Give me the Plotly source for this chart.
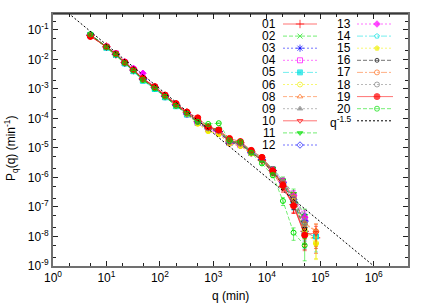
import plotly.graph_objects as go

# ---------------- data ----------------
q = [5, 10, 15, 22, 32, 48, 80, 125, 200, 320, 510, 800, 1260, 2000, 3200,
     5100, 8100, 12900, 20000, 31600, 51000, 83000]

s01 = [6.5e-2, 2.7e-2, 1.5e-2, 7.9e-3, 4.4e-3, 2.2e-3, 1.15e-3, 5.8e-4, 3.0e-4, 1.6e-4, 8.0e-5, 5.0e-5, 3.6e-5, 1.7e-5, 1.5e-5, 7.5e-6, 3.8e-6, 1.7e-6, 5.0e-7, 1.2e-7, 1.5e-8, 9e-9]
s02 = [7.0e-2, 2.5e-2, 1.4e-2, 7.4e-3, 4.1e-3, 2.0e-3, 1.05e-3, 5.4e-4, 2.7e-4, 1.4e-4, 7.2e-5, 4.5e-5, 3.9e-5, 1.5e-5, 1.3e-5, 6.8e-6, 4.2e-6, 1.5e-6, 7.0e-7, 2.2e-7, 3.0e-8, None]
s03 = [6.9e-2, 2.6e-2, 1.5e-2, 7.7e-3, 4.2e-3, 2.1e-3, 1.1e-3, 5.5e-4, 2.8e-4, 1.4e-4, 7.5e-5, 4.6e-5, 3.5e-5, 1.5e-5, 1.35e-5, 7.0e-6, 4.1e-6, 1.7e-6, 6.5e-7, 1.5e-7, 3.5e-8, None]
s04 = [6.6e-2, 2.7e-2, 1.6e-2, 8.0e-3, 4.6e-3, 2.3e-3, 1.15e-3, 5.9e-4, 2.9e-4, 1.5e-4, 7.0e-5, 4.2e-5, 3.3e-5, 1.6e-5, 1.25e-5, 7.4e-6, 4.4e-6, 1.9e-6, 7.5e-7, 2.5e-7, 4.0e-8, None]
s05 = [6.7e-2, 2.5e-2, 1.45e-2, 7.3e-3, 4.0e-3, 1.9e-3, 1.0e-3, 5.2e-4, 2.6e-4, 1.35e-4, 7.3e-5, 4.6e-5, 4.0e-5, 1.7e-5, 1.55e-5, 7.8e-6, 4.5e-6, 1.8e-6, 6.8e-7, 1.4e-7, 1.3e-8, 1.0e-8]
s06 = [6.8e-2, 2.6e-2, 1.5e-2, 7.5e-3, 4.3e-3, 2.0e-3, 1.1e-3, 5.6e-4, 2.7e-4, 1.5e-4, 6.8e-5, 3.8e-5, 3.0e-5, 1.4e-5, 1.2e-5, 6.5e-6, 4.8e-6, 1.6e-6, 6.0e-7, 1.9e-7, 1.8e-8, 6e-9]
s08 = [6.4e-2, 2.6e-2, 1.55e-2, 7.8e-3, 4.4e-3, 2.15e-3, 1.1e-3, 5.7e-4, 2.9e-4, 1.55e-4, 7.8e-5, 4.8e-5, 3.7e-5, 1.6e-5, 1.45e-5, 7.2e-6, 3.9e-6, 1.6e-6, 6.6e-7, 2.0e-7, 2.8e-8, 1.6e-8]
s09 = [6.9e-2, 2.5e-2, 1.5e-2, 7.6e-3, 4.3e-3, 2.1e-3, 1.1e-3, 5.5e-4, 2.8e-4, 1.45e-4, 7.4e-5, 4.6e-5, 3.8e-5, 1.6e-5, 1.4e-5, 7.0e-6, 4.0e-6, 1.5e-6, 6.2e-7, 1.7e-7, 2.2e-8, None]
s10 = [6.2e-2, 2.7e-2, 1.5e-2, 7.7e-3, 4.4e-3, 2.2e-3, 1.2e-3, 6.0e-4, 3.1e-4, 1.6e-4, 8.2e-5, 5.1e-5, 4.0e-5, 1.8e-5, 1.5e-5, 7.4e-6, 3.6e-6, 1.4e-6, 4.5e-7, 1.1e-7, 1.2e-8, 1.3e-8]
s11 = [7.1e-2, 2.6e-2, 1.45e-2, 7.5e-3, 4.2e-3, 2.0e-3, 1.05e-3, 5.4e-4, 2.7e-4, 1.4e-4, 7.6e-5, 5.0e-5, 4.3e-5, 1.7e-5, 1.4e-5, 7.3e-6, 4.3e-6, 2.0e-6, 8.0e-7, 2.8e-7, 5.0e-8, None]
s12 = [6.7e-2, 2.6e-2, 1.5e-2, 7.6e-3, 4.3e-3, 2.1e-3, 1.1e-3, 5.6e-4, 2.8e-4, 1.5e-4, 7.5e-5, 4.5e-5, 3.6e-5, 1.55e-5, 1.35e-5, 6.9e-6, 4.1e-6, 1.7e-6, 6.9e-7, 1.8e-7, 3.2e-8, None]
s13 = [6.9e-2, 2.7e-2, 1.6e-2, 8.3e-3, 5.0e-3, 3.4e-3, 1.2e-3, 5.8e-4, 2.9e-4, 1.4e-4, 7.1e-5, 4.3e-5, 3.2e-5, 1.4e-5, 1.2e-5, 6.6e-6, 4.6e-6, 1.8e-6, 7.2e-7, 2.4e-7, 4.5e-8, None]
s14 = [6.6e-2, 2.5e-2, 1.5e-2, 7.4e-3, 4.1e-3, 2.0e-3, 1.05e-3, 5.3e-4, 2.7e-4, 1.45e-4, 7.4e-5, 4.7e-5, 3.9e-5, 1.6e-5, 1.45e-5, 7.6e-6, 4.3e-6, 1.7e-6, 6.4e-7, 1.6e-7, 2.4e-8, None]
s15 = [6.8e-2, 2.6e-2, 1.5e-2, 7.6e-3, 4.2e-3, 2.0e-3, 1.1e-3, 5.5e-4, 2.7e-4, 1.4e-4, 6.5e-5, 3.7e-5, 2.9e-5, 1.4e-5, 1.15e-5, 6.4e-6, 4.7e-6, 1.7e-6, 6.1e-7, 1.7e-7, 1.6e-8, 5.5e-9]
s16 = [6.9e-2, 2.6e-2, 1.5e-2, 7.6e-3, 4.3e-3, 2.1e-3, 1.1e-3, 5.6e-4, 2.8e-4, 1.5e-4, 7.6e-5, 4.6e-5, 3.7e-5, 1.6e-5, 1.4e-5, 7.0e-6, 3.9e-6, 1.5e-6, 5.8e-7, 1.5e-7, 1.8e-8, None]
s17 = [6.5e-2, 2.6e-2, 1.5e-2, 7.7e-3, 4.3e-3, 2.1e-3, 1.1e-3, 5.7e-4, 2.9e-4, 1.5e-4, 7.7e-5, 4.7e-5, 3.6e-5, 1.6e-5, 1.4e-5, 7.2e-6, 4.0e-6, 1.6e-6, 6.8e-7, 2.1e-7, 2.6e-8, 1.5e-8]
s18 = [6.8e-2, 2.6e-2, 1.5e-2, 7.5e-3, 4.3e-3, 2.1e-3, 1.1e-3, 5.6e-4, 2.8e-4, 1.5e-4, 7.5e-5, 4.6e-5, 3.8e-5, 1.6e-5, 1.4e-5, 7.1e-6, 4.1e-6, 1.6e-6, 6.5e-7, 1.9e-7, 2.9e-8, None]
s19 = [6.0e-2, 2.7e-2, 1.55e-2, 8.0e-3, 4.5e-3, 2.3e-3, 1.2e-3, 6.2e-4, 3.2e-4, 1.65e-4, 1.05e-4, 5.2e-5, 4.1e-5, 2.1e-5, 1.65e-5, 8.3e-6, 4.8e-6, 1.7e-6, 5.5e-7, 1.1e-7, 1.1e-8, None]
s20 = [7.2e-2, 2.6e-2, 1.5e-2, 7.6e-3, 4.2e-3, 2.0e-3, 1.05e-3, 5.5e-4, 2.7e-4, 1.45e-4, 7.7e-5, 6.5e-5, 6.9e-5, 1.8e-5, 1.6e-5, 6.9e-6, 3.0e-6, 1.2e-6, 1.6e-7, 1.35e-8, 5e-9, None]

# relative error bar size per q bin (visible only in the tail)
rel_err = [0, 0, 0, 0, 0, 0, 0, 0, 0, 0, 0, 0, 0.02, 0.04, 0.05,
           0.08, 0.12, 0.18, 0.3, 0.45, 0.7, 0.7]

names = ["01", "02", "03", "04", "05", "06", "08", "09", "10", "11",
         "12", "13", "14", "15", "16", "17", "18", "19", "20"]
series = [s01, s02, s03, s04, s05, s06, s08, s09, s10, s11,
          s12, s13, s14, s15, s16, s17, s18, s19, s20]

# power-law reference q^-1.5
q_line = [1, 1e7]
p_line = [1.0, 1e7 ** -1.5]
line_label = "q<sup>-1.5</sup>"

# x/y tick labels
x_tick_exp = [0, 1, 2, 3, 4, 5, 6]
y_tick_exp = [-9, -8, -7, -6, -5, -4, -3, -2, -1]

# ---------------- styles ----------------
RED, GRN, BLU, MAG, CYN, YEL, BLK, ORG, GRY = (
    "#ff0000", "#00e000", "#0000ff", "#ff00ff", "#00e0e0",
    "#f0f000", "#000000", "#ff7020", "#808080")
colors = [RED, GRN, BLU, MAG, CYN, YEL, ORG, GRY, RED, GRN,
          BLU, MAG, CYN, YEL, BLK, ORG, GRY, RED, GRN]
DASH = "4px,2px"
DOT = "2px,2px"
DDOT = "6px,2px,2px,2px"
dashes = ["solid", DASH, DOT, DOT, DDOT, DOT, DASH, DOT, "solid", DASH,
          DOT, DOT, DDOT, DOT, DASH, DDOT, DOT, "solid", DASH]
symbols = ["cross-thin-open", "x-thin-open", "asterisk-open", "square-open", "square",
           "circle-open", "triangle-up-open", "triangle-up", "triangle-down-open",
           "triangle-down", "diamond-open", "diamond", "pentagon-open", "pentagon",
           "circle-open", "circle-open", "circle-open", "circle", "circle-open"]
msizes = [6, 5, 6, 5, 5, 5, 5, 5, 5, 5, 5, 5, 5, 5, 4, 5, 5, 6, 5]


def rgba(hexc, a):
    h = hexc.lstrip("#")
    return "rgba(%d,%d,%d,%.2f)" % (int(h[0:2], 16), int(h[2:4], 16), int(h[4:6], 16), a)


fig = go.Figure()

for nm, ys, c, d, sym, ms in zip(names, series, colors, dashes, symbols, msizes):
    errs = [None if y is None else y * r for y, r in zip(ys, rel_err)]
    fig.add_trace(go.Scatter(
        x=q, y=ys, mode="lines+markers", name=nm, showlegend=False,
        line=dict(color=rgba(c, 0.55), width=1, dash=d),
        marker=dict(symbol=sym, size=ms, color=c, line=dict(color=c, width=1)),
        error_y=dict(type="data", array=errs, visible=True, color=rgba(c, 0.55),
                     thickness=1, width=2),
        connectgaps=False,
    ))

fig.add_trace(go.Scatter(
    x=q_line, y=p_line, mode="lines", showlegend=False,
    line=dict(color="black", width=1, dash="2px,2px"),
))

# ---------------- manual gnuplot-style key ----------------
X0, X1 = 53.0, 408.0
Y0, Y1 = 14.0, 266.0


def fx(px):
    return (px - X0) / (X1 - X0)


def fy(py):
    return (Y1 - py) / (Y1 - Y0)


annotations = []
row_h = 12.1
for i, (nm, c, d, sym, ms) in enumerate(zip(names, colors, dashes, symbols, msizes)):
    if i < 11:
        col_lab, l0, lm, l1, r = 278, 283, 300, 317, i
    else:
        col_lab, l0, lm, l1, r = 353, 357, 377, 393, i - 11
    py = 24 + row_h * r
    fig.add_trace(go.Scatter(
        x=[fx(l0), fx(lm), fx(l1)], y=[fy(py)] * 3, xaxis="x2", yaxis="y2",
        mode="lines+markers", showlegend=False, hoverinfo="skip",
        line=dict(color=rgba(c, 0.55), width=1, dash=d),
        marker=dict(symbol=sym, size=[0, ms, 0], color=c, line=dict(color=c, width=1)),
    ))
    annotations.append(dict(x=fx(col_lab), y=fy(py), xref="paper", yref="paper",
                            text=nm, showarrow=False, xanchor="right", yanchor="middle",
                            font=dict(size=12, color="black")))

py = 24 + row_h * 8
fig.add_trace(go.Scatter(
    x=[fx(357), fx(393)], y=[fy(py)] * 2, xaxis="x2", yaxis="y2",
    mode="lines", showlegend=False, hoverinfo="skip",
    line=dict(color="black", width=1, dash="2px,2px"),
))
annotations.append(dict(x=fx(353), y=fy(py + 1), xref="paper", yref="paper",
                        text=line_label, showarrow=False, xanchor="right", yanchor="middle",
                        font=dict(size=12, color="black")))

# axis titles
annotations.append(dict(x=fx(230), y=fy(296), xref="paper", yref="paper",
                        text="q (min)", showarrow=False, xanchor="center", yanchor="middle",
                        font=dict(size=12, color="black")))
annotations.append(dict(x=fx(11), y=fy(149), xref="paper", yref="paper",
                        text="P<sub>q</sub>(q) (min<sup>-1</sup>)", textangle=-90,
                        showarrow=False, xanchor="center", yanchor="middle",
                        font=dict(size=12, color="black")))

x_minor = [m * 10 ** e for e in range(0, 7) for m in (2, 5)]
y_minor = [m * 10 ** e for e in range(-9, 0) for m in (2, 5)]

axis_common = dict(type="log", showgrid=False, zeroline=False, ticks="inside",
                   ticklen=5, tickwidth=1, tickcolor="#222", showline=True,
                   linecolor="#707070", linewidth=2, mirror="allticks",
                   tickfont=dict(size=12, color="black"))

fig.update_layout(
    width=436, height=305,
    margin=dict(l=53, r=28, t=14, b=39),
    paper_bgcolor="white", plot_bgcolor="white",
    font=dict(family="Liberation Sans, Arial, sans-serif", size=12, color="black"),
    showlegend=False,
    xaxis=dict(axis_common, range=[0, 6.64], tickmode="array",
               tickvals=[10 ** e for e in x_tick_exp],
               ticktext=["10<sup>%d</sup>" % e for e in x_tick_exp],
               minor=dict(tickmode="array", tickvals=x_minor, ticks="inside",
                          ticklen=3, tickcolor="#222")),
    yaxis=dict(axis_common, range=[-9, -0.46], tickmode="array",
               tickvals=[10.0 ** e for e in y_tick_exp],
               ticktext=["10<sup>%d</sup>" % e for e in y_tick_exp],
               minor=dict(tickmode="array", tickvals=y_minor, ticks="inside",
                          ticklen=3, tickcolor="#222")),
    xaxis2=dict(overlaying="x", range=[0, 1], visible=False, anchor="y2",
                fixedrange=True),
    yaxis2=dict(overlaying="y", range=[0, 1], visible=False, anchor="x2",
                fixedrange=True),
    annotations=annotations,
    shapes=[dict(type="line", xref="paper", yref="paper", x0=0, x1=1, y0=1, y1=1,
                 line=dict(color="black", width=1))],
)

fig.write_html("out.html",
               config={"displayModeBar": False},
               post_script="document.body.style.margin='0px';"
                           "document.body.style.padding='0px';")
